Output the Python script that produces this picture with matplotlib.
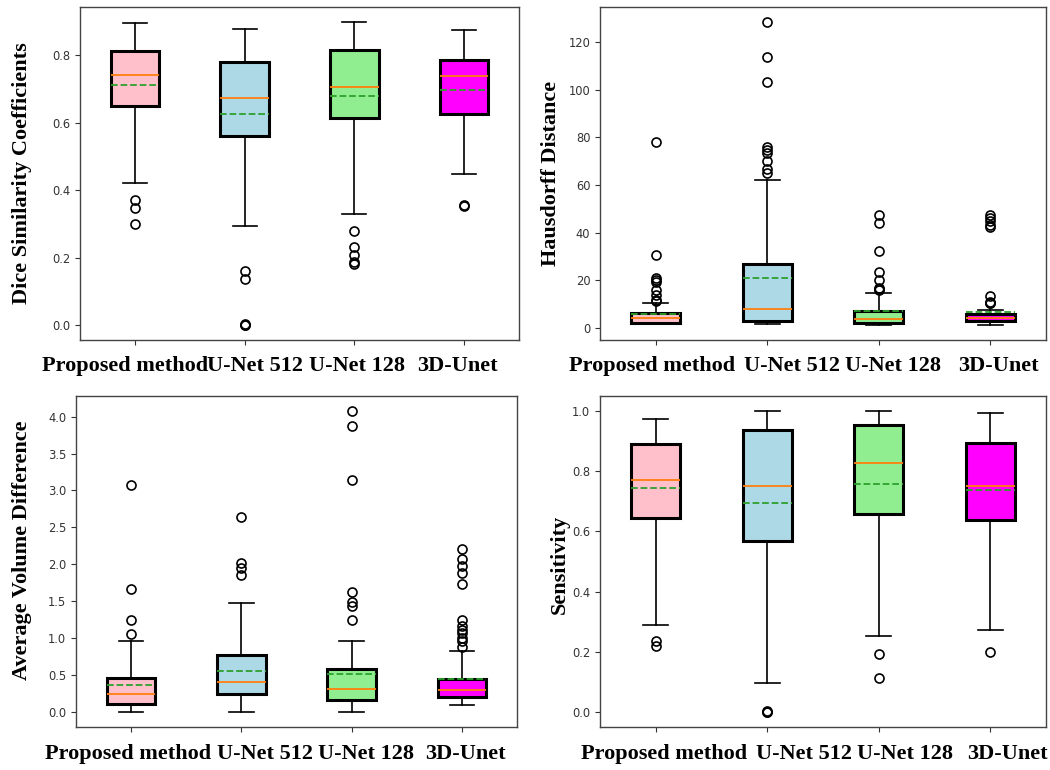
import matplotlib
matplotlib.use('Agg')
import matplotlib.pyplot as plt
from matplotlib.transforms import ScaledTranslation

categories = ['Proposed method', 'U-Net 512', 'U-Net 128', '3D-Unet']
box_colors = ['pink', 'lightblue', 'lightgreen', 'magenta']

# Dice Similarity Coefficients
dsc_whislo = [0.420, 0.294, 0.329, 0.449]
dsc_q1 = [0.649, 0.562, 0.613, 0.626]
dsc_med = [0.741, 0.674, 0.707, 0.738]
dsc_mean = [0.712, 0.627, 0.680, 0.696]
dsc_q3 = [0.814, 0.782, 0.816, 0.788]
dsc_whishi = [0.897, 0.880, 0.899, 0.875]
dsc_fliers = [[0.370, 0.347, 0.299],
              [0.159, 0.137, 0.0, 0.0, 0.002],
              [0.279, 0.232, 0.206, 0.188, 0.181],
              [0.352, 0.355]]

# Hausdorff Distance
hd_whislo = [1.7, 1.7, 1.4, 1.4]
hd_q1 = [2.1, 2.9, 2.0, 2.9]
hd_med = [4.1, 8.0, 3.8, 4.1]
hd_mean = [6.0, 21.0, 7.1, 6.9]
hd_q3 = [6.2, 27.0, 7.4, 5.9]
hd_whishi = [10.6, 62.2, 14.6, 7.7]
hd_fliers = [[78.0, 30.8, 21.0, 20.0, 19.2, 16.0, 14.0, 12.0, 11.2],
             [128.3, 113.8, 103.2, 75.9, 74.8, 73.4, 70.1, 66.8, 65.1],
             [47.3, 44.1, 32.2, 23.4, 20.4, 16.8, 16.4, 16.0],
             [47.5, 46.2, 44.8, 43.4, 42.6, 13.3, 11.1, 10.6, 10.4]]

# Average Volume Difference
avd_whislo = [0.0, 0.0, 0.0, 0.09]
avd_q1 = [0.108, 0.238, 0.161, 0.206]
avd_med = [0.242, 0.408, 0.309, 0.300]
avd_mean = [0.363, 0.561, 0.511, 0.450]
avd_q3 = [0.460, 0.767, 0.583, 0.453]
avd_whishi = [0.96, 1.48, 0.96, 0.83]
avd_fliers = [[3.076, 1.664, 1.251, 1.058],
              [2.646, 2.018, 1.955, 1.857],
              [4.076, 3.879, 3.139, 1.628, 1.484, 1.439, 1.242],
              [2.211, 2.076, 1.973, 1.883, 1.735, 1.242, 1.170, 1.112, 1.067, 1.0, 0.955, 0.879]]

# Sensitivity
sen_whislo = [0.290, 0.097, 0.251, 0.271]
sen_q1 = [0.645, 0.569, 0.659, 0.637]
sen_med = [0.771, 0.751, 0.827, 0.751]
sen_mean = [0.745, 0.695, 0.759, 0.738]
sen_q3 = [0.890, 0.938, 0.952, 0.895]
sen_whishi = [0.974, 1.0, 1.0, 0.994]
sen_fliers = [[0.235, 0.218],
              [0.0, 0.0, 0.002],
              [0.193, 0.113],
              [0.200]]

panels = [
    ('Dice Similarity Coefficients', dsc_whislo, dsc_q1, dsc_med, dsc_mean, dsc_q3, dsc_whishi, dsc_fliers),
    ('Hausdorff Distance', hd_whislo, hd_q1, hd_med, hd_mean, hd_q3, hd_whishi, hd_fliers),
    ('Average Volume Difference', avd_whislo, avd_q1, avd_med, avd_mean, avd_q3, avd_whishi, avd_fliers),
    ('Sensitivity', sen_whislo, sen_q1, sen_med, sen_mean, sen_q3, sen_whishi, sen_fliers),
]

# layout (figure fractions) and label tweaks
axes_rects = [
    [80 / 1050, 430 / 770, 439 / 1050, 333 / 770],
    [600 / 1050, 430 / 770, 446 / 1050, 333 / 770],
    [76 / 1050, 43 / 770, 441 / 1050, 331 / 770],
    [600 / 1050, 43 / 770, 446 / 1050, 331 / 770],
]
label_shift_px = [[-10, 10, 3, -7], [-4, 25, 14, 8], [-3.5, 24, 14, 4], [8.5, 37, 26, 17]]
ylabel_xy = [(-0.11, 0.5), (-0.088, 0.5), (-0.10, 0.533), (-0.068, 0.49)]
tick_pad = [8, 8, 9, 9]

fig = plt.figure(figsize=(10.5, 7.7), dpi=100)
spine_color = '#444444'
tick_color = '#333333'

for i, (ylabel, wlo, q1, med, mean, q3, whi, fl) in enumerate(panels):
    ax = fig.add_axes(axes_rects[i])
    stats = []
    for k in range(len(categories)):
        stats.append(dict(label=categories[k], whislo=wlo[k], q1=q1[k], med=med[k],
                          mean=mean[k], q3=q3[k], whishi=whi[k], fliers=fl[k]))
    bp = ax.bxp(stats, widths=0.44, patch_artist=True, showmeans=True, meanline=True,
                boxprops=dict(linewidth=2.2, edgecolor='black'),
                whiskerprops=dict(linewidth=1.2, color='black'),
                capprops=dict(linewidth=1.2, color='black'),
                medianprops=dict(linewidth=1.3, color='#ff7f0e'),
                meanprops=dict(linewidth=1.3, color='#2ca02c', linestyle='--'),
                flierprops=dict(marker='o', markersize=6.5, markerfacecolor='none',
                                markeredgecolor='black', markeredgewidth=1.2))
    for patch, c in zip(bp['boxes'], box_colors):
        patch.set_facecolor(c)
    ax.set_ylabel(ylabel, fontsize=16, fontweight='bold', family='Liberation Serif')
    ax.yaxis.set_label_coords(*ylabel_xy[i])
    ax.tick_params(axis='y', labelsize=8.3, colors=tick_color)
    ax.tick_params(axis='x', pad=tick_pad[i], colors=tick_color)
    for lab, dx in zip(ax.get_xticklabels(), label_shift_px[i]):
        lab.set_fontfamily('Liberation Serif')
        lab.set_fontweight('bold')
        lab.set_fontsize(16)
        lab.set_color('black')
        lab.set_transform(lab.get_transform() + ScaledTranslation(dx / 100, 0, fig.dpi_scale_trans))
    for s in ax.spines.values():
        s.set_color(spine_color)
        s.set_linewidth(1.0)

fig.savefig('out.png', dpi=100)
